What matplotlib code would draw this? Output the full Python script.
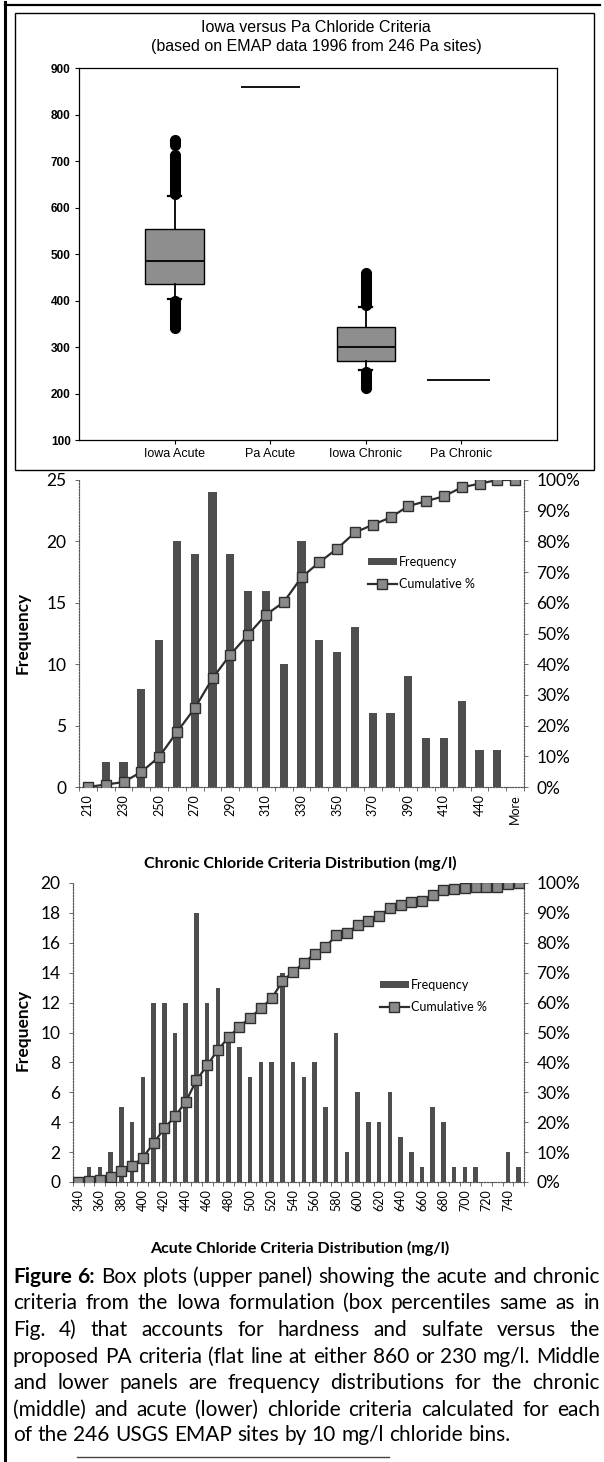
import matplotlib
matplotlib.use('Agg')
import matplotlib.pyplot as plt
from matplotlib.lines import Line2D
from matplotlib.patches import Rectangle, Patch
import numpy as np

plt.rcParams['font.family'] = ['Lato', 'DejaVu Sans']

# ---------------- data ----------------
box_labels = ['Iowa Acute', 'Pa Acute', 'Iowa Chronic', 'Pa Chronic']
acute_q1, acute_med, acute_q3 = 435, 486, 554
acute_whislo, acute_whishi = 403, 624
acute_fliers = [341, 346, 351, 356, 361, 366, 371, 376, 381, 386, 391, 396, 400,
                628, 634, 640, 646, 652, 658, 664, 670, 676, 682, 688, 694, 700,
                706, 712, 734, 740, 745]
chronic_q1, chronic_med, chronic_q3 = 270, 300, 344
chronic_whislo, chronic_whishi = 250, 386
chronic_fliers = [211, 215, 219, 223, 228, 233, 238, 243, 247,
                  390, 395, 400, 405, 410, 415, 420, 425, 430, 435, 440, 445, 450,
                  455, 459]
pa_acute = 860
pa_chronic = 230

chronic_bins = ['210', '220', '230', '240', '250', '260', '270', '280', '290', '300',
                '310', '320', '330', '340', '350', '360', '370', '380', '390', '400',
                '410', '420', '440', '450', 'More']
chronic_freq = [0, 2, 2, 8, 12, 20, 19, 24, 19, 16, 16, 10, 20, 12, 11, 13, 6, 6, 9,
                4, 4, 7, 3, 3, 0]
chronic_cum = [0.0, 0.8, 1.6, 4.9, 9.8, 17.9, 25.6, 35.4, 43.1, 49.6, 56.1, 60.2,
               68.3, 73.2, 77.6, 82.9, 85.4, 87.8, 91.5, 93.1, 94.7, 97.6, 98.8,
               100.0, 100.0]

acute_bins = ['340', '350', '360', '370', '380', '390', '400', '410', '420', '430',
              '440', '450', '460', '470', '480', '490', '500', '510', '520', '530',
              '540', '550', '560', '570', '580', '590', '600', '610', '620', '630',
              '640', '650', '660', '670', '680', '690', '700', '710', '720', '730',
              '740', 'More']
acute_freq = [0, 1, 1, 2, 5, 4, 7, 12, 12, 10, 12, 18, 12, 13, 10, 9, 7, 8, 8, 14,
              8, 7, 8, 5, 10, 2, 6, 4, 4, 6, 3, 2, 1, 5, 4, 1, 1, 1, 0, 0, 2, 1]
acute_cum = [0.0, 0.4, 0.8, 1.6, 3.7, 5.3, 8.1, 13.0, 17.9, 22.0, 26.8, 34.1, 39.0,
             44.3, 48.4, 52.0, 54.9, 58.1, 61.4, 67.1, 70.3, 73.2, 76.4, 78.5, 82.5,
             83.3, 85.8, 87.4, 89.0, 91.5, 92.7, 93.5, 93.9, 95.9, 97.6, 98.0, 98.4,
             98.8, 98.8, 98.8, 99.6, 100.0]

caption_lines = [
    "Figure 6: Box plots (upper panel) showing the acute and chronic",
    "criteria from the Iowa formulation (box percentiles same as in",
    "Fig. 4) that accounts for hardness and sulfate versus the",
    "proposed PA criteria (flat line at either 860 or 230 mg/l. Middle",
    "and lower panels are frequency distributions for the chronic",
    "(middle) and acute (lower) chloride criteria calculated for each",
    "of the 246 USGS EMAP sites by 10 mg/l chloride bins.",
]

# ---------------- figure ----------------
W, H = 604, 1462
fig = plt.figure(figsize=(W / 100, H / 100), dpi=100)
fig.patch.set_facecolor('white')


def rect(l, t, r, b):
    return [l / W, 1 - b / H, (r - l) / W, (b - t) / H]


def fx(x):
    return x / W


def fy(y):
    return 1 - y / H


# page borders
fig.add_artist(Line2D([fx(5), fx(5)], [fy(2), fy(1462)], color='black', lw=2.2))
fig.add_artist(Line2D([fx(5), fx(600)], [fy(5), fy(5)], color='black', lw=1.6))
fig.add_artist(Rectangle((fx(15), fy(470)), fx(594) - fx(15), fy(13) - fy(470),
                         transform=fig.transFigure, fill=False, ec='black', lw=1.0))
fig.add_artist(Line2D([fx(77), fx(389)], [fy(1457), fy(1457)], color='#444444', lw=1.0))

# ---------------- top panel: box plots ----------------
ARIAL = ['Liberation Sans', 'DejaVu Sans']
ax0 = fig.add_axes(rect(79, 68, 557, 440))
stats = [
    dict(med=acute_med, q1=acute_q1, q3=acute_q3, whislo=acute_whislo,
         whishi=acute_whishi, fliers=acute_fliers),
    dict(med=chronic_med, q1=chronic_q1, q3=chronic_q3, whislo=chronic_whislo,
         whishi=chronic_whishi, fliers=chronic_fliers),
]
ax0.bxp(stats, positions=[1, 3], widths=0.61, patch_artist=True, capwidths=0.14,
        boxprops=dict(facecolor='#8e8e8e', edgecolor='black', lw=1.0),
        medianprops=dict(color='black', lw=1.3),
        whiskerprops=dict(color='black', lw=1.3),
        capprops=dict(color='black', lw=1.6),
        flierprops=dict(marker='o', markerfacecolor='black', markeredgecolor='black',
                        markersize=7))
ax0.hlines([pa_acute], 2 - 0.31, 2 + 0.31, color='black', lw=1.3)
ax0.hlines([pa_chronic], 3.97 - 0.33, 3.97 + 0.33, color='black', lw=1.3)
ax0.set_xlim(0, 5)
ax0.set_ylim(100, 900)
ax0.set_yticks(range(100, 901, 100))
ax0.set_xticks([1, 2, 3, 4])
ax0.set_xticklabels(box_labels, family=ARIAL, fontsize=9)
for lab in ax0.get_yticklabels():
    lab.set_family(ARIAL)
    lab.set_fontweight('bold')
    lab.set_fontsize(8.5)
ax0.tick_params(axis='both', direction='out', length=3, width=0.8, pad=3)
for sp in ax0.spines.values():
    sp.set_linewidth(0.9)
fig.text(fx(316), fy(28), 'Iowa versus Pa Chloride Criteria', family=ARIAL,
         fontsize=11.5, ha='center', va='center')
fig.text(fx(316), fy(46), '(based on EMAP data 1996 from 246 Pa sites)', family=ARIAL,
         fontsize=11.5, ha='center', va='center')

# ---------------- histogram helper ----------------
BAR_C = '#4e4e4e'
LINE_C = '#2e2e2e'
MK_FC = '#8a8a8a'


def histo(axrect, bins, freq, cum, ymax, ystep, barw, legpos, ms):
    ax = fig.add_axes(axrect)
    x = np.arange(len(bins))
    ax.bar(x, freq, width=barw, color=BAR_C, edgecolor='none', zorder=2)
    ax.set_xlim(-0.5, len(bins) - 0.5)
    ax.set_ylim(0, ymax)
    ax.set_yticks(np.arange(0, ymax + 0.1, ystep))
    ax.set_xticks(x[::2])
    ax.set_xticklabels([bins[i] for i in x[::2]], rotation=90, fontsize=9)
    ax.set_xticks(np.arange(-0.5, len(bins), 1), minor=True)
    ax.tick_params(axis='x', which='major', length=0, pad=5)
    ax.tick_params(axis='x', which='minor', length=3, width=0.6, color='#555555')
    ax.tick_params(axis='y', length=3, width=0.6, color='#555555', labelsize=12.5, pad=6)
    ax2 = ax.twinx()
    ax2.plot(x, cum, color=LINE_C, lw=1.6, marker='s', ms=ms, mfc=MK_FC, mec=LINE_C,
             mew=1.0, zorder=3)
    ax2.set_ylim(0, 100)
    ax2.set_yticks(range(0, 101, 10))
    ax2.set_yticklabels([f'{v}%' for v in range(0, 101, 10)])
    ax2.tick_params(axis='y', length=3, width=0.6, color='#555555', labelsize=12.5, pad=6)
    for a in (ax, ax2):
        a.spines['top'].set_visible(False)
        for s in ('left', 'right', 'bottom'):
            a.spines[s].set_linestyle((0, (1, 1.5)))
            a.spines[s].set_linewidth(0.8)
            a.spines[s].set_color('#555555')
    handles = [Patch(facecolor=BAR_C, edgecolor='none'),
               Line2D([], [], color=LINE_C, lw=1.6, marker='s', ms=ms, mfc=MK_FC,
                      mec=LINE_C)]
    ax2.legend(handles, ['Frequency', 'Cumulative %'], loc='upper left',
               bbox_to_anchor=(fx(legpos[0]), fy(legpos[1])),
               bbox_transform=fig.transFigure, frameon=False, fontsize=9,
               handlelength=2.3, handleheight=0.5, handletextpad=0.15,
               labelspacing=0.8, borderaxespad=0, borderpad=0)
    return ax, ax2


histo(rect(79, 480, 524, 787), chronic_bins, chronic_freq, chronic_cum, 25, 5, 0.45,
      (368, 556), 7.5)
fig.text(fx(23), fy(633), 'Frequency', rotation=90, fontweight='bold', fontsize=12.5,
         ha='center', va='center')
fig.text(fx(300), fy(863), 'Chronic Chloride Criteria Distribution (mg/l)',
         fontweight='bold', fontsize=11.5, ha='center', va='center')

histo(rect(73, 883, 524, 1182), acute_bins, acute_freq, acute_cum, 20, 2, 0.42,
      (380, 979), 6.5)
fig.text(fx(23), fy(1030), 'Frequency', rotation=90, fontweight='bold', fontsize=12.5,
         ha='center', va='center')
fig.text(fx(300), fy(1248), 'Acute Chloride Criteria Distribution (mg/l)',
         fontweight='bold', fontsize=11.5, ha='center', va='center')

# ---------------- justified caption ----------------
renderer = fig.canvas.get_renderer()
cap_left, cap_right = 13, 600
avail = cap_right - cap_left
line_y = [1277, 1303, 1330, 1357, 1383, 1410, 1435]


def measure(s, size, weight='normal'):
    t = fig.text(0, 0, s, fontsize=size, fontweight=weight)
    w = t.get_window_extent(renderer).width
    t.remove()
    return w


line_words = []
for i, ln in enumerate(caption_lines):
    ws = ln.split(' ')
    line_words.append([(w, 'bold' if (i == 0 and j < 2) else 'normal')
                       for j, w in enumerate(ws)])


def natural(size):
    sp = measure('a a', size) - measure('aa', size)
    res = []
    for words in line_words:
        widths = [measure(w, size, wt) for w, wt in words]
        res.append((widths, sp))
    return res


size = 15.0
nat = natural(size)
mx = max(sum(w) + sp * (len(w) - 1) for w, sp in nat)
if mx > avail:
    size = size * avail / mx * 0.995
    nat = natural(size)

for i, (words, (widths, sp)) in enumerate(zip(line_words, nat)):
    if i < len(line_words) - 1 and len(words) > 1:
        gap = (avail - sum(widths)) / (len(words) - 1)
    else:
        gap = sp
    xpos = cap_left
    for (w, wt), wd in zip(words, widths):
        fig.text(fx(xpos), fy(line_y[i]), w, fontsize=size, fontweight=wt,
                 ha='left', va='center')
        xpos += wd + gap

fig.savefig('out.png', dpi=100, facecolor='white')
